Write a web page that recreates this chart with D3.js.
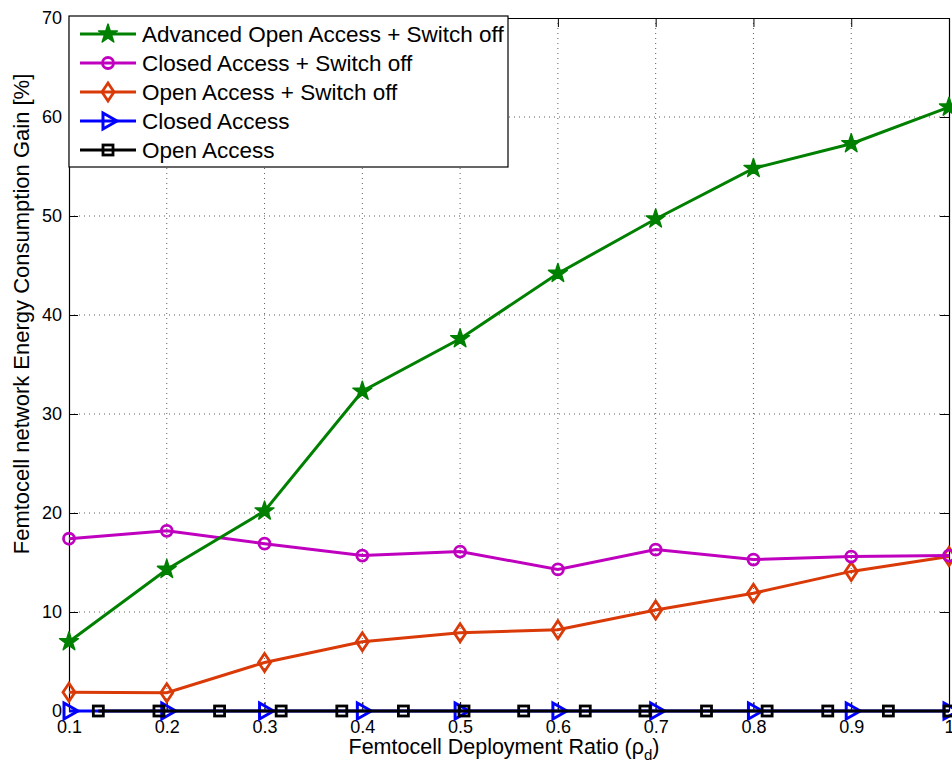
<!DOCTYPE html>
<html>
<head>
<meta charset="utf-8">
<script src="https://cdn.jsdelivr.net/npm/d3@7"></script>
<style>
  body { margin: 0; background: #fff; }
  svg { display: block; font-family: 'Liberation Sans', Arial, sans-serif; }
</style>
</head>
<body>
<div id="chart"></div>
<script>
const RATIOS = [0.1, 0.2, 0.3, 0.4, 0.5, 0.6, 0.7, 0.8, 0.9, 1.0]
const ADV_OPEN_SWITCH = [7.0, 14.3, 20.2, 32.3, 37.6, 44.2, 49.7, 54.8, 57.3, 61.0]
const CLOSED_SWITCH = [17.4, 18.2, 16.9, 15.7, 16.1, 14.3, 16.3, 15.3, 15.6, 15.7]
const OPEN_SWITCH = [1.9, 1.85, 4.9, 7.0, 7.9, 8.2, 10.2, 11.9, 14.1, 15.6]
const CLOSED = [0, 0, 0, 0, 0, 0, 0, 0, 0, 0]
const OPEN_RATIOS = [0.130, 0.192, 0.254, 0.317, 0.379, 0.442, 0.504, 0.565, 0.628, 0.689, 0.752, 0.814, 0.876, 0.938, 1.0]
const OPEN = [0, 0, 0, 0, 0, 0, 0, 0, 0, 0, 0, 0, 0, 0, 0]
const X_TICKS = [0.1, 0.2, 0.3, 0.4, 0.5, 0.6, 0.7, 0.8, 0.9, 1]
const Y_TICKS = [0, 10, 20, 30, 40, 50, 60, 70]

const W = 952
const H = 767
const M = { top: 18, right: 3, bottom: 56, left: 69 }

const svg = d3.select('#chart').append('svg')
  .attr('width', W).attr('height', H)

const x = d3.scaleLinear().domain([0.1, 1]).range([M.left, W - M.right])
const y = d3.scaleLinear().domain([0, 70]).range([H - M.bottom, M.top])

// grid
svg.append('g').selectAll('line').data(X_TICKS.slice(1, -1)).join('line')
  .attr('x1', d => x(d)).attr('x2', d => x(d))
  .attr('y1', y(70)).attr('y2', y(0))
  .attr('stroke', '#333').attr('stroke-width', 0.8).attr('stroke-dasharray', '1,4')
svg.append('g').selectAll('line').data(Y_TICKS.slice(1, -1)).join('line')
  .attr('x1', x(0.1)).attr('x2', x(1))
  .attr('y1', d => y(d)).attr('y2', d => y(d))
  .attr('stroke', '#333').attr('stroke-width', 0.8).attr('stroke-dasharray', '1,4')

// axes (ticks inward, box)
const tk = 9
const xAxis = svg.append('g').attr('transform', `translate(0,${y(0)})`)
  .call(d3.axisBottom(x).tickValues(X_TICKS).tickSizeInner(-tk).tickSizeOuter(0).tickPadding(9).tickFormat(d3.format('')))
const yAxis = svg.append('g').attr('transform', `translate(${x(0.1)},0)`)
  .call(d3.axisLeft(y).tickValues(Y_TICKS).tickSizeInner(-tk).tickSizeOuter(0).tickPadding(7))
svg.append('g').attr('transform', `translate(0,${y(70)})`)
  .call(d3.axisTop(x).tickValues(X_TICKS).tickSizeInner(-tk).tickSizeOuter(0).tickFormat(''))
svg.append('g').attr('transform', `translate(${x(1)},0)`)
  .call(d3.axisRight(y).tickValues(Y_TICKS).tickSizeInner(-tk).tickSizeOuter(0).tickFormat(''))
svg.selectAll('.domain').attr('stroke', '#000').attr('stroke-width', 1.2)
svg.selectAll('.tick line').attr('stroke', '#000')
xAxis.selectAll('text').attr('font-size', 18).attr('fill', '#000').attr('font-family', 'Liberation Sans, Arial, sans-serif')
yAxis.selectAll('text').attr('font-size', 18).attr('fill', '#000').attr('font-family', 'Liberation Sans, Arial, sans-serif')

// axis titles
const xt = svg.append('text')
  .attr('x', 504).attr('y', 754)
  .attr('text-anchor', 'middle').attr('font-size', 21.5)
  .text('Femtocell Deployment Ratio (ρ')
xt.append('tspan').attr('font-size', 15).attr('dy', 6).text('d')
xt.append('tspan').attr('dy', -6).text(')')

svg.append('text')
  .attr('transform', `translate(29,314) rotate(-90)`)
  .attr('text-anchor', 'middle').attr('font-size', 22)
  .text('Femtocell network Energy Consumption Gain [%]')

// series
const series = [
  { name: 'Advanced Open Access + Switch off', xs: RATIOS, ys: ADV_OPEN_SWITCH, color: '#008000', marker: 'star' },
  { name: 'Closed Access + Switch off', xs: RATIOS, ys: CLOSED_SWITCH, color: '#bf00bf', marker: 'circle' },
  { name: 'Open Access + Switch off', xs: RATIOS, ys: OPEN_SWITCH, color: '#d93a08', marker: 'diamond' },
  { name: 'Closed Access', xs: RATIOS, ys: CLOSED, color: '#0000ff', marker: 'triangle' },
  { name: 'Open Access', xs: OPEN_RATIOS, ys: OPEN, color: '#000000', marker: 'square' }
]

function drawMarker (g, type, color) {
  if (type === 'star') {
    g.append('path').attr('d', d3.symbol(d3.symbolStar, 110)())
      .attr('fill', color).attr('stroke', color).attr('stroke-width', 1.5).attr('stroke-linejoin', 'round')
  } else if (type === 'circle') {
    g.append('circle').attr('r', 5.5)
      .attr('fill', 'none').attr('stroke', color).attr('stroke-width', 2.8)
  } else if (type === 'diamond') {
    g.append('path').attr('d', 'M0,-9L6,0L0,9L-6,0Z')
      .attr('fill', 'none').attr('stroke', color).attr('stroke-width', 2.8)
  } else if (type === 'triangle') {
    g.append('path').attr('d', 'M-5,-8L9,0L-5,8Z')
      .attr('fill', 'none').attr('stroke', color).attr('stroke-width', 3)
  } else if (type === 'square') {
    g.append('rect').attr('x', -5).attr('y', -5).attr('width', 10).attr('height', 10)
      .attr('fill', 'none').attr('stroke', color).attr('stroke-width', 2.8)
  }
}

const line = d3.line().x(d => x(d[0])).y(d => y(d[1]))
const drawOrder = [3, 4, 2, 1, 0]
drawOrder.forEach(i => {
  const s = series[i]
  const pts = s.xs.map((v, k) => [v, s.ys[k]])
  svg.append('path').attr('d', line(pts))
    .attr('fill', 'none').attr('stroke', s.color).attr('stroke-width', 3)
  pts.forEach(p => {
    const g = svg.append('g').attr('transform', `translate(${x(p[0])},${y(p[1])})`)
    drawMarker(g, s.marker, s.color)
  })
})

// legend
const lg = svg.append('g').attr('transform', 'translate(69,16)')
lg.append('rect').attr('width', 439).attr('height', 151)
  .attr('fill', '#fff').attr('stroke', '#000').attr('stroke-width', 1.2)
series.forEach((s, i) => {
  const ry = 18 + i * 29
  lg.append('line').attr('x1', 11).attr('x2', 67).attr('y1', ry).attr('y2', ry)
    .attr('stroke', s.color).attr('stroke-width', 3)
  const g = lg.append('g').attr('transform', `translate(39,${ry})`)
  drawMarker(g, s.marker, s.color)
  lg.append('text').attr('x', 73).attr('y', ry + 8).attr('font-size', 22.5).text(s.name)
})
</script>
</body>
</html>
